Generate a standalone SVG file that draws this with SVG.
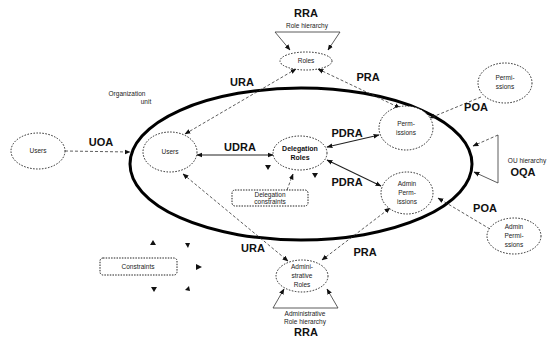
<svg xmlns="http://www.w3.org/2000/svg" width="560" height="340" viewBox="0 0 560 340">
<style>
.node{fill:#fff;stroke:#222;stroke-width:1;stroke-dasharray:1.5 1.5}
.box{fill:#fff;stroke:#222;stroke-width:1;stroke-dasharray:1.5 1.2}
.t{font-family:"Liberation Sans",Arial,sans-serif;font-size:6.5px;fill:#222;text-anchor:middle}
.tb{font-family:"Liberation Sans",Arial,sans-serif;font-size:7px;font-weight:bold;fill:#111;text-anchor:middle}
.lab{font-family:"Liberation Sans",Arial,sans-serif;font-size:11px;font-weight:bold;fill:#111;text-anchor:middle}
.dash{fill:none;stroke:#333;stroke-width:0.8;stroke-dasharray:3 2}
.solid{fill:none;stroke:#222;stroke-width:1.1}
.thin{fill:none;stroke:#333;stroke-width:0.8}
.ah{fill:#111}
</style>
<defs>
<marker id="a" viewBox="0 0 10 10" refX="9" refY="5" markerUnits="userSpaceOnUse" markerWidth="6" markerHeight="6" orient="auto-start-reverse"><path d="M0,1 L10,5 L0,9z" fill="#111"/></marker>
</defs>
<rect width="560" height="340" fill="#fff"/>
<g id="org-unit">
<ellipse cx="301" cy="164" rx="171" ry="76" fill="none" stroke="#000" stroke-width="3"/>
<text class="t" x="127" y="96">Organization</text>
<text class="t" x="146" y="104">unit</text>
</g>
<g id="connectors">
<path class="dash" d="M65,151 L130,152" marker-end="url(#a)"/>
<path class="solid" d="M197,155 L273,155" marker-start="url(#a)" marker-end="url(#a)"/>
<path class="dash" d="M296,69 L185,134" marker-start="url(#a)" marker-end="url(#a)"/>
<path class="dash" d="M318,69 L400,108" marker-start="url(#a)" marker-end="url(#a)"/>
<path class="solid" d="M327,147 L379,135" marker-start="url(#a)" marker-end="url(#a)"/>
<path class="solid" d="M327,160 L381,186" marker-start="url(#a)" marker-end="url(#a)"/>
<path class="dash" d="M481,97 L430,118" marker-end="url(#a)"/>
<path class="dash" d="M490,229 L438,198" marker-end="url(#a)"/>
<path class="dash" d="M183,174 L288,261" marker-start="url(#a)" marker-end="url(#a)"/>
<path class="dash" d="M322,260 L390,208" marker-start="url(#a)" marker-end="url(#a)"/>
<path class="dash" d="M287,190 L293,174" marker-end="url(#a)"/>
<path class="thin" d="M275,32 L340,32"/>
<path class="thin" d="M275,32 L290,50" marker-end="url(#a)"/>
<path class="thin" d="M340,32 L328,50" marker-end="url(#a)"/>
<path class="thin" d="M273,308 L338,308"/>
<path class="thin" d="M273,308 L284,289" marker-end="url(#a)"/>
<path class="thin" d="M338,308 L327,289" marker-end="url(#a)"/>
<path class="thin" d="M498,135 L498,183"/>
<path class="dash" d="M498,135 L473,146" marker-end="url(#a)"/>
<path class="thin" d="M498,183 L474,172" marker-end="url(#a)"/>
<path class="ah" d="M153,240 L156,245 L150,245z"/>
<path class="ah" d="M190,243 L188,248 L185,243z"/>
<path class="ah" d="M202,267 L196,270 L196,264z"/>
<path class="ah" d="M190,291 L185,290 L189,286z"/>
<path class="ah" d="M154,292 L151,287 L157,287z"/>
<path class="ah" d="M268,170 L265,165 L271,165z"/>
<path class="ah" d="M315,178 L312,173 L318,173z"/>
</g>
<g class="lab">
<text x="101" y="146">UOA</text>
<text x="240" y="151">UDRA</text>
<text x="242" y="86">URA</text>
<text x="368" y="81">PRA</text>
<text x="347" y="137">PDRA</text>
<text x="347" y="186">PDRA</text>
<text x="476" y="111">POA</text>
<text x="485" y="212">POA</text>
<text x="523" y="176">OQA</text>
<text x="253" y="252">URA</text>
<text x="365" y="256">PRA</text>
<text x="306" y="17">RRA</text>
<text x="306" y="336">RRA</text>
</g>
<g id="labels-small">
<text class="t" x="307" y="28">Role hierarchy</text>
<text class="t" x="527" y="163">OU hierarchy</text>
<text class="t" x="305" y="316">Administrative</text>
<text class="t" x="305" y="324">Role hierarchy</text>
</g>
<g id="roles"><ellipse class="node" cx="306" cy="61" rx="26" ry="9"/><text class="t" x="306" y="63">Roles</text></g>
<g id="users-out"><ellipse class="node" cx="38" cy="151" rx="27" ry="18"/><text class="t" x="38" y="153">Users</text></g>
<g id="users-in"><ellipse class="node" cx="170" cy="152" rx="27" ry="20"/><text class="t" x="170" y="154">Users</text></g>
<g id="deleg-roles"><ellipse class="node" cx="300" cy="153" rx="27" ry="17"/><text class="tb" x="300" y="151">Delegation</text><text class="tb" x="300" y="160">Roles</text></g>
<g id="perm-in"><ellipse class="node" cx="406" cy="128" rx="27" ry="22"/><text class="t" x="406" y="126">Perm-</text><text class="t" x="406" y="135">issions</text></g>
<g id="perm-out"><ellipse class="node" cx="505" cy="83" rx="27" ry="20"/><text class="t" x="505" y="80">Permi-</text><text class="t" x="505" y="89">ssions</text></g>
<g id="adminperm-in"><ellipse class="node" cx="407" cy="193" rx="26" ry="21"/><text class="t" x="407" y="186">Admin</text><text class="t" x="407" y="195">Perm-</text><text class="t" x="407" y="204">issions</text></g>
<g id="adminperm-out"><ellipse class="node" cx="514" cy="236" rx="27" ry="18"/><text class="t" x="514" y="229">Admin</text><text class="t" x="514" y="238">Permi-</text><text class="t" x="514" y="247">ssions</text></g>
<g id="admin-roles"><ellipse class="node" cx="302" cy="276" rx="26" ry="16"/><text class="t" x="302" y="269">Admini-</text><text class="t" x="302" y="278">strative</text><text class="t" x="302" y="287">Roles</text></g>
<g id="deleg-constraints"><rect class="box" x="232" y="190" width="76" height="16" rx="3"/><text class="t" x="270" y="197">Delegation</text><text class="t" x="270" y="204">constraints</text></g>
<g id="constraints"><rect class="box" x="100" y="258" width="77" height="17" rx="3"/><text class="t" x="138" y="269">Constraints</text></g>
</svg>
